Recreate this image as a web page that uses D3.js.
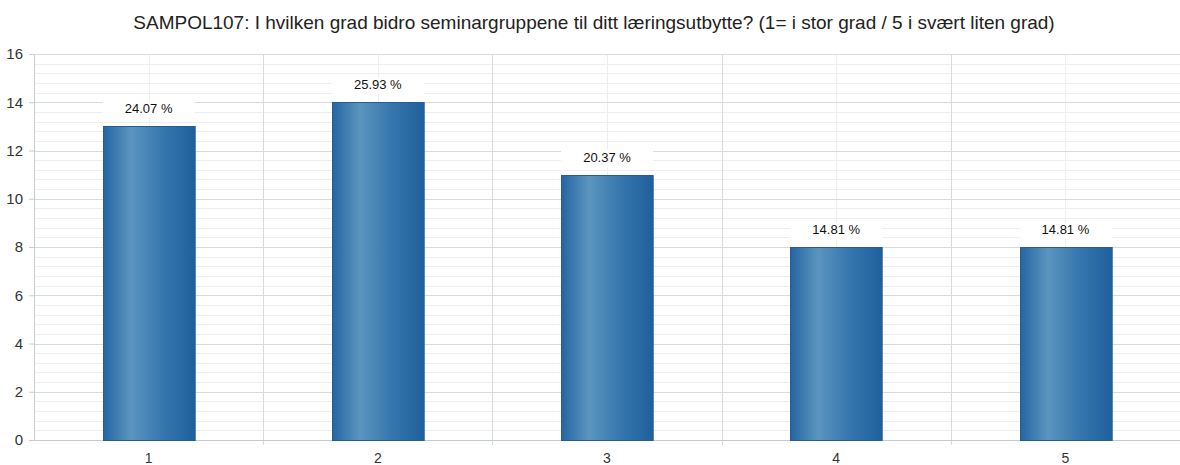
<!DOCTYPE html>
<html>
<head>
<meta charset="utf-8">
<script src="https://cdn.jsdelivr.net/npm/d3@7"></script>
<style>
  body { margin: 0; background: #fff; }
  text { font-family: "Liberation Sans", Arial, sans-serif; }
</style>
</head>
<body>
<div id="chart"></div>
<script>
// data
var categories = ["1", "2", "3", "4", "5"];
var counts = [13, 14, 11, 8, 8];
var percentLabels = ["24.07 %", "25.93 %", "20.37 %", "14.81 %", "14.81 %"];
var yTicks = [0, 2, 4, 6, 8, 10, 12, 14, 16];

var W = 1180, H = 465;
var margin = {top: 54, right: 0, bottom: 25, left: 34};
var width = W - margin.left - margin.right,
    height = H - margin.top - margin.bottom;

var svg = d3.select("#chart").append("svg")
    .attr("width", W).attr("height", H);

// gradient for bars
var defs = svg.append("defs");
var grad = defs.append("linearGradient").attr("id", "barGrad")
    .attr("x1", "0%").attr("x2", "100%").attr("y1", "0%").attr("y2", "0%");
grad.append("stop").attr("offset", "0%").attr("stop-color", "#2566a2");
grad.append("stop").attr("offset", "30%").attr("stop-color", "#5b95bf");
grad.append("stop").attr("offset", "65%").attr("stop-color", "#3676ad");
grad.append("stop").attr("offset", "100%").attr("stop-color", "#1f609d");

// title
svg.append("text")
    .attr("x", 594).attr("y", 29)
    .attr("text-anchor", "middle")
    .style("font-size", "19px")
    .style("fill", "#222")
    .text("SAMPOL107: I hvilken grad bidro seminargruppene til ditt læringsutbytte? (1= i stor grad / 5 i svært liten grad)");

var g = svg.append("g")
    .attr("transform", "translate(" + margin.left + "," + margin.top + ")");

var x = d3.scaleBand()
    .domain(categories)
    .range([0, width]);

var y = d3.scaleLinear()
    .domain([0, 16])
    .range([height, 0]);

// minor horizontal grid
g.append("g")
    .selectAll("line")
    .data(d3.range(0, 16.001, 0.4))
    .enter().append("line")
    .attr("x1", 0).attr("x2", width)
    .attr("y1", function(d) { return Math.round(y(d)) + 0.5; })
    .attr("y2", function(d) { return Math.round(y(d)) + 0.5; })
    .attr("stroke", "#eceeef");

// vertical lines at category centers (light)
g.append("g")
    .selectAll("line")
    .data(categories)
    .enter().append("line")
    .attr("x1", function(d) { return Math.round(x(d) + x.bandwidth() / 2) + 0.5; })
    .attr("x2", function(d) { return Math.round(x(d) + x.bandwidth() / 2) + 0.5; })
    .attr("y1", 0).attr("y2", height)
    .attr("stroke", "#eceeef");

// major horizontal grid
g.append("g")
    .selectAll("line")
    .data(yTicks)
    .enter().append("line")
    .attr("x1", 0).attr("x2", width)
    .attr("y1", function(d) { return Math.round(y(d)) + 0.5; })
    .attr("y2", function(d) { return Math.round(y(d)) + 0.5; })
    .attr("stroke", "#d6dbde");

// vertical band boundaries
g.append("g")
    .selectAll("line")
    .data(categories.slice(1))
    .enter().append("line")
    .attr("x1", function(d) { return Math.round(x(d)) + 0.5; })
    .attr("x2", function(d) { return Math.round(x(d)) + 0.5; })
    .attr("y1", 0).attr("y2", height + 5)
    .attr("stroke", "#d6dbde");

// y axis
var yAxis = g.append("g")
    .call(d3.axisLeft(y).tickValues(yTicks).tickSize(5).tickPadding(6).tickSizeOuter(0));
yAxis.select(".domain").attr("stroke", "#c4ccd0");
yAxis.selectAll(".tick line").attr("stroke", "#c4ccd0");
yAxis.selectAll("text")
    .style("font-size", "15px")
    .style("fill", "#333")
    .style("font-family", "'Liberation Sans', Arial, sans-serif");

// x axis
var xAxis = g.append("g")
    .attr("transform", "translate(0," + height + ")")
    .call(d3.axisBottom(x).tickSize(0).tickPadding(13));
xAxis.select(".domain").attr("stroke", "#c4ccd0");
xAxis.selectAll("text")
    .style("font-size", "14px")
    .style("fill", "#333")
    .style("font-family", "'Liberation Sans', Arial, sans-serif");

// bars
var barW = x.bandwidth() * 0.4;
g.append("g")
    .selectAll("rect")
    .data(counts)
    .enter().append("rect")
    .attr("x", function(d, i) { return Math.round(x(categories[i]) + (x.bandwidth() - barW) / 2) + 0.5; })
    .attr("y", function(d) { return Math.round(y(d)) + 0.5; })
    .attr("width", barW)
    .attr("height", function(d) { return Math.round(y(0)) - Math.round(y(d)); })
    .attr("fill", "url(#barGrad)")
    .attr("stroke", "#245e95")
    .attr("stroke-width", 1);

// value labels with white background
var labels = g.append("g")
    .selectAll("g")
    .data(counts)
    .enter().append("g")
    .attr("transform", function(d, i) {
        return "translate(" + (x(categories[i]) + x.bandwidth() / 2) + "," + (y(d) - 13) + ")";
    });
labels.append("rect")
    .attr("x", -46).attr("y", -12)
    .attr("width", 92).attr("height", 17)
    .attr("fill", "#fff");
labels.append("text")
    .attr("text-anchor", "middle")
    .style("font-size", "13px")
    .style("fill", "#111")
    .text(function(d, i) { return percentLabels[i]; });
</script>
</body>
</html>
